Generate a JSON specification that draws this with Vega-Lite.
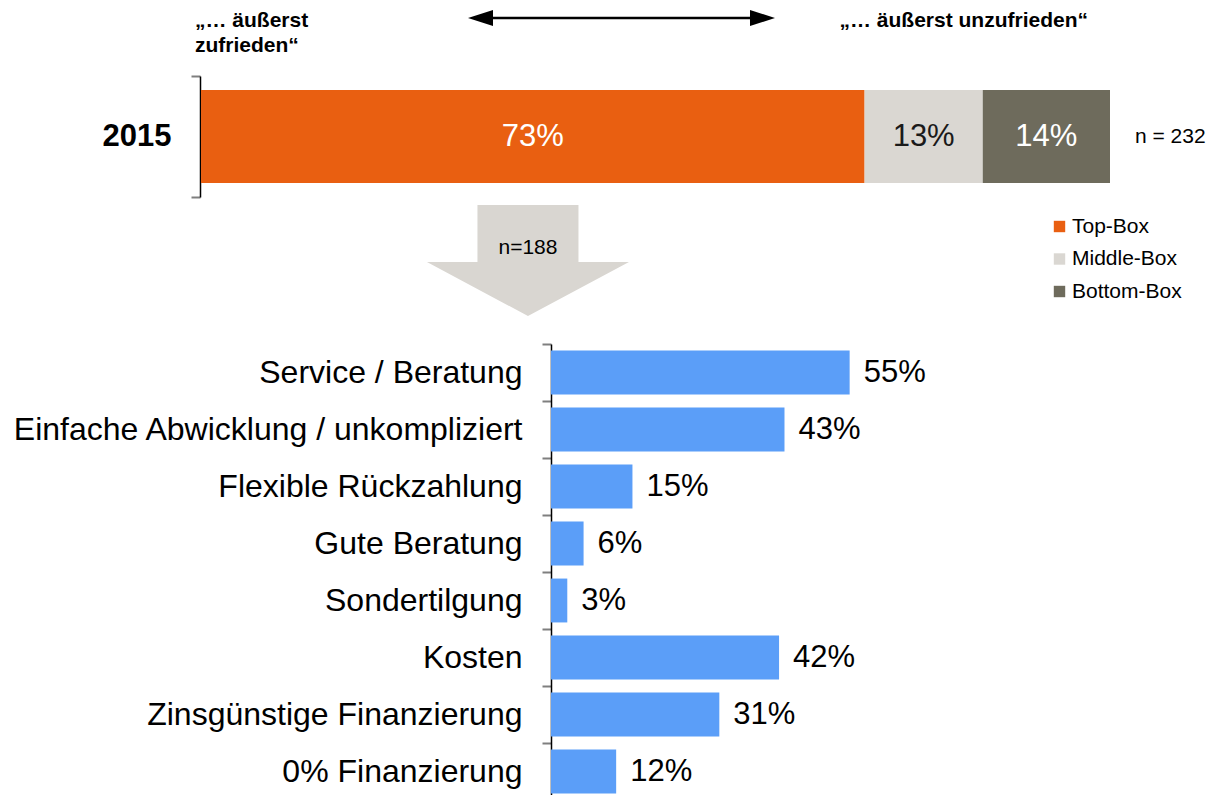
{
  "$schema": "https://vega.github.io/schema/vega-lite/v6.json",
  "width": 1208,
  "height": 795,
  "padding": 0,
  "autosize": {"type": "none"},
  "background": "white",
  "config": {"view": {"stroke": null}, "font": "Liberation Sans"},
  "datasets": {
    "top": [
      {"year": "2015", "box": "Top-Box", "value": 0.73, "order": 1},
      {"year": "2015", "box": "Middle-Box", "value": 0.13, "order": 2},
      {"year": "2015", "box": "Bottom-Box", "value": 0.14, "order": 3}
    ],
    "reasons": [
      {"reason": "Service / Beratung", "value": 0.55},
      {"reason": "Einfache Abwicklung / unkompliziert", "value": 0.43},
      {"reason": "Flexible Rückzahlung", "value": 0.15},
      {"reason": "Gute Beratung", "value": 0.06},
      {"reason": "Sondertilgung", "value": 0.03},
      {"reason": "Kosten", "value": 0.42},
      {"reason": "Zinsgünstige Finanzierung", "value": 0.31},
      {"reason": "0% Finanzierung", "value": 0.12}
    ]
  },
  "layer": [
    {
      "data": {"name": "top"},
      "layer": [
        {
          "mark": {"type": "bar", "height": {"band": 0.77}},
          "encoding": {
            "y": {
              "field": "year", "type": "nominal",
              "scale": {"range": [76, 197], "paddingInner": 0, "paddingOuter": 0},
              "axis": {
                "orient": "left", "offset": -200, "title": null,
                "labelFontSize": 31, "labelFontWeight": "bold", "labelColor": "#000",
                "labelFont": "Liberation Sans", "labelPadding": 20,
                "tickSize": 9, "tickColor": "#7f7f7f", "tickWidth": 2,
                "domainColor": "#000", "domainWidth": 1.5, "tickBand": "extent"
              }
            },
            "x": {
              "field": "value", "type": "quantitative", "stack": "zero",
              "scale": {"domain": [0, 1], "range": [201, 1110]}, "axis": null
            },
            "color": {
              "field": "box", "type": "nominal",
              "scale": {"domain": ["Top-Box", "Middle-Box", "Bottom-Box"], "range": ["#E95F11", "#DAD7D2", "#6E6B5C"]},
              "legend": {
                "orient": "none", "legendX": 1049, "legendY": 216, "title": null,
                "symbolType": "square", "symbolSize": 130, "symbolStrokeWidth": 0, "symbolOpacity": 1,
                "labelFontSize": 21, "labelFont": "Liberation Sans", "labelColor": "#000",
                "labelOffset": 2, "rowPadding": 10.5
              }
            },
            "order": {"field": "order", "type": "quantitative"}
          }
        },
        {
          "mark": {"type": "text", "fontSize": 31},
          "encoding": {
            "y": {"field": "year", "type": "nominal"},
            "x": {"field": "value", "type": "quantitative", "stack": "zero", "bandPosition": 0.5},
            "detail": {"field": "box"},
            "order": {"field": "order", "type": "quantitative"},
            "text": {"field": "value", "format": ".0%"},
            "color": {"condition": {"test": "datum.box === 'Middle-Box'", "value": "#1a1a1a"}, "value": "#ffffff"}
          }
        },
        {
          "data": {"values": [{"label": "n = 232"}]},
          "mark": {"type": "text", "align": "left", "dx": 25, "fontSize": 21, "color": "#000"},
          "encoding": {
            "x": {"datum": 1, "type": "quantitative"},
            "y": {"datum": "2015", "type": "nominal"},
            "text": {"field": "label"}
          }
        },
        {
          "data": {"values": [{"label": ["„… äußerst", "zufrieden“"]}]},
          "mark": {"type": "text", "align": "left", "baseline": "alphabetic", "dx": -6, "dy": -109.5, "fontSize": 21, "fontWeight": "bold", "lineHeight": 25, "color": "#000"},
          "encoding": {
            "x": {"datum": 0, "type": "quantitative"},
            "y": {"datum": "2015", "type": "nominal"},
            "text": {"field": "label"}
          }
        },
        {
          "data": {"values": [{"label": "„… äußerst unzufrieden“"}]},
          "mark": {"type": "text", "align": "right", "baseline": "alphabetic", "dx": -22, "dy": -109.5, "fontSize": 21, "fontWeight": "bold", "color": "#000"},
          "encoding": {
            "x": {"datum": 1, "type": "quantitative"},
            "y": {"datum": "2015", "type": "nominal"},
            "text": {"field": "label"}
          }
        },
        {
          "data": {"values": [{"start": 0.3075, "end": 0.6177}]},
          "mark": {"type": "rule", "strokeWidth": 2.5, "color": "#000", "yOffset": -118.5},
          "encoding": {
            "x": {"field": "start", "type": "quantitative"},
            "x2": {"field": "end"},
            "y": {"datum": "2015", "type": "nominal"}
          }
        },
        {
          "data": {"values": [{"pos": 0.3075}]},
          "mark": {"type": "point", "filled": true, "shape": "M -1 0 L 1 -0.64 L 1 0.64 Z", "size": 625, "color": "#000", "opacity": 1, "yOffset": -118.5},
          "encoding": {
            "x": {"field": "pos", "type": "quantitative"},
            "y": {"datum": "2015", "type": "nominal"}
          }
        },
        {
          "data": {"values": [{"pos": 0.6177}]},
          "mark": {"type": "point", "filled": true, "shape": "M 1 0 L -1 -0.64 L -1 0.64 Z", "size": 625, "color": "#000", "opacity": 1, "yOffset": -118.5},
          "encoding": {
            "x": {"field": "pos", "type": "quantitative"},
            "y": {"datum": "2015", "type": "nominal"}
          }
        },
        {
          "data": {"values": [{"pos": 0.3597}]},
          "mark": {"type": "point", "filled": true, "shape": "M -0.5 -0.55 L 0.5 -0.55 L 0.5 0.015 L 1 0.015 L 0 0.55 L -1 0.015 L -0.5 0.015 Z", "size": 40804, "color": "#D9D6D1", "opacity": 1, "yOffset": 124},
          "encoding": {
            "x": {"field": "pos", "type": "quantitative"},
            "y": {"datum": "2015", "type": "nominal"}
          }
        },
        {
          "data": {"values": [{"pos": 0.3597, "label": "n=188"}]},
          "mark": {"type": "text", "fontSize": 21, "dy": 111.5, "color": "#000"},
          "encoding": {
            "x": {"field": "pos", "type": "quantitative"},
            "y": {"datum": "2015", "type": "nominal"},
            "text": {"field": "label"}
          }
        }
      ]
    },
    {
      "data": {"name": "reasons"},
      "layer": [
        {
          "mark": {"type": "bar", "height": {"band": 0.77}, "color": "#5B9EF8"},
          "encoding": {
            "y": {
              "field": "reason", "type": "nominal", "sort": null,
              "scale": {"range": [344, 800], "paddingInner": 0, "paddingOuter": 0},
              "axis": {
                "orient": "left", "offset": -551, "title": null,
                "labelFontSize": 32, "labelColor": "#000", "labelFont": "Liberation Sans",
                "labelPadding": 20, "labelLimit": 600,
                "tickSize": 9, "tickColor": "#7f7f7f", "tickWidth": 2,
                "domainColor": "#000", "domainWidth": 1.5, "tickBand": "extent"
              }
            },
            "x": {
              "field": "value", "type": "quantitative",
              "scale": {"domain": [0, 1], "range": [551, 1094]}, "axis": null
            }
          }
        },
        {
          "mark": {"type": "text", "align": "left", "dx": 14, "fontSize": 31, "color": "#000"},
          "encoding": {
            "y": {"field": "reason", "type": "nominal", "sort": null},
            "x": {"field": "value", "type": "quantitative"},
            "text": {"field": "value", "format": ".0%"}
          }
        }
      ]
    }
  ],
  "resolve": {
    "scale": {"x": "independent", "y": "independent", "color": "independent"},
    "axis": {"x": "independent", "y": "independent"}
  }
}
